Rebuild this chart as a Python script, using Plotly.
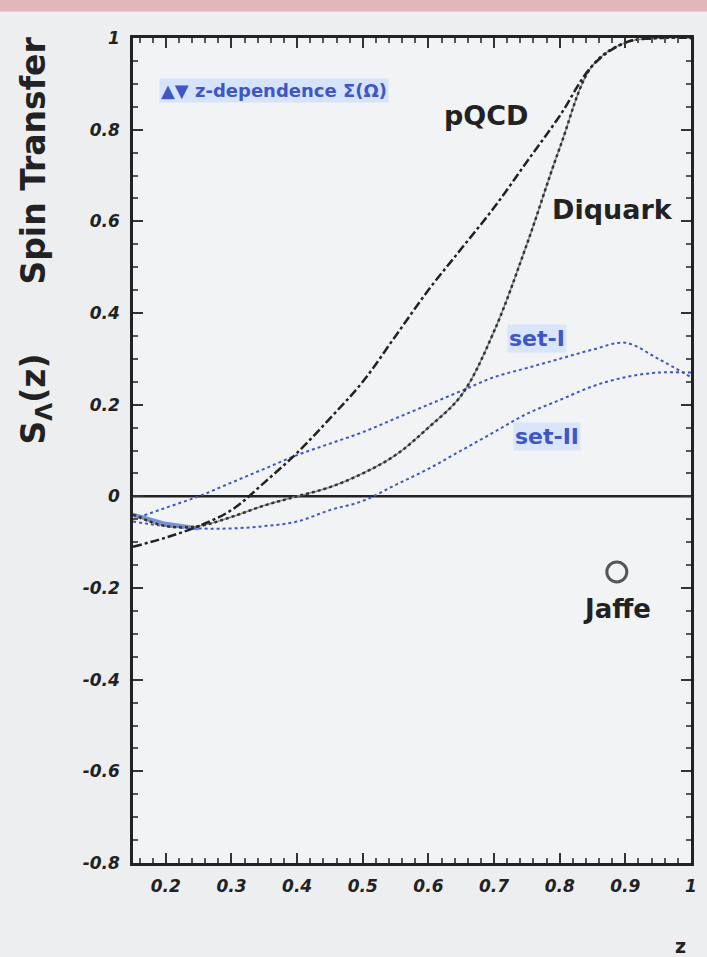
import plotly.graph_objects as go

# ---- data ----
z = [0.15, 0.20, 0.25, 0.30, 0.35, 0.40, 0.45, 0.50, 0.55, 0.60,
     0.65, 0.70, 0.75, 0.80, 0.85, 0.90, 0.95, 1.00]
pqcd = [-0.11, -0.09, -0.065, -0.03, 0.03, 0.095, 0.17, 0.25, 0.35, 0.45,
        0.54, 0.63, 0.73, 0.83, 0.94, 0.99, 1.0, 1.0]
diquark = [-0.04, -0.065, -0.065, -0.045, -0.02, 0.0, 0.02, 0.05, 0.09, 0.15,
           0.22, 0.36, 0.55, 0.76, 0.94, 0.99, 1.0, 1.0]
set1 = [-0.05, -0.025, 0.0, 0.03, 0.06, 0.09, 0.115, 0.14, 0.17, 0.20,
        0.23, 0.26, 0.28, 0.30, 0.32, 0.335, 0.30, 0.26]
set2 = [-0.055, -0.065, -0.07, -0.07, -0.065, -0.055, -0.03, -0.01, 0.025, 0.06,
        0.10, 0.14, 0.18, 0.21, 0.24, 0.26, 0.27, 0.27]
band_z = [0.15, 0.20, 0.25]
band_y = [-0.04, -0.06, -0.07]
jaffe_z = [0.887]
jaffe_y = [-0.165]

x_ticks = [0.2, 0.3, 0.4, 0.5, 0.6, 0.7, 0.8, 0.9, 1.0]
x_ticklabels = ["0.2", "0.3", "0.4", "0.5", "0.6", "0.7", "0.8", "0.9", "1"]
y_ticks = [-0.8, -0.6, -0.4, -0.2, 0, 0.2, 0.4, 0.6, 0.8, 1]
y_ticklabels = ["-0.8", "-0.6", "-0.4", "-0.2", "0", "0.2", "0.4", "0.6", "0.8", "1"]

BLUE = "#3f56c4"
FONT = "DejaVu Sans"

fig = go.Figure()

# zero line
fig.add_trace(go.Scatter(x=[0.15, 1.0], y=[0, 0], mode="lines",
                         line=dict(color="#222222", width=2.5), hoverinfo="skip"))
# blue solid short band
fig.add_trace(go.Scatter(x=band_z, y=band_y, mode="lines",
                         line=dict(color="rgba(80,120,220,0.8)", width=4), hoverinfo="skip"))
# set-I and set-II
fig.add_trace(go.Scatter(x=z, y=set1, mode="lines", name="set-I",
                         line=dict(color=BLUE, width=2, dash="dot", shape="spline")))
fig.add_trace(go.Scatter(x=z, y=set2, mode="lines", name="set-II",
                         line=dict(color=BLUE, width=2, dash="dot", shape="spline")))
# Diquark: solid grey with dotted overlay
fig.add_trace(go.Scatter(x=z, y=diquark, mode="lines", name="Diquark",
                         line=dict(color="#8a8a8a", width=1.5, shape="spline")))
fig.add_trace(go.Scatter(x=z, y=diquark, mode="lines", name="Diquark",
                         line=dict(color="#333333", width=2.5, dash="dot", shape="spline")))
# pQCD
fig.add_trace(go.Scatter(x=z, y=pqcd, mode="lines", name="pQCD",
                         line=dict(color="#222222", width=2.5, dash="dashdot", shape="spline")))
# Jaffe point
fig.add_trace(go.Scatter(x=jaffe_z, y=jaffe_y, mode="markers", name="Jaffe",
                         marker=dict(symbol="circle-open", size=20, color="#555555",
                                     line=dict(color="#555555", width=3))))

def bold(size, color="#222222"):
    return dict(family=FONT, size=size, color=color, weight="bold")

annotations = [
    dict(x=0.688, y=0.83, text="pQCD", font=bold(27)),
    dict(x=0.88, y=0.625, text="Diquark", font=bold(27)),
    dict(x=0.765, y=0.345, text="set-I", font=bold(22, BLUE),
         bgcolor="rgba(200,220,255,0.6)"),
    dict(x=0.78, y=0.13, text="set-II", font=bold(22, BLUE),
         bgcolor="rgba(200,220,255,0.6)"),
    dict(x=0.887, y=-0.245, text="Jaffe", font=bold(26)),
    dict(x=0.19, y=0.885, xanchor="left", text="▲▼ z-dependence Σ(Ω)",
         font=bold(18, BLUE), bgcolor="rgba(190,215,255,0.55)"),
    dict(xref="paper", yref="paper", x=-0.175, y=0.755, xanchor="center", yanchor="middle",
         textangle=-90, text="S<sub>Λ</sub>(z)      Spin Transfer", font=bold(33)),
    dict(xref="paper", yref="paper", x=0.995, y=-0.1, yanchor="middle", text="z",
         font=bold(19)),
]
for a in annotations:
    a.setdefault("xref", "x")
    a.setdefault("yref", "y")
    a["showarrow"] = False

axis_common = dict(
    showgrid=False, zeroline=False, showline=True, linecolor="#222222", linewidth=2.5,
    mirror="ticks", ticks="inside", ticklen=10, tickwidth=2, tickcolor="#333333",
    tickfont=dict(family=FONT, size=17, color="#222222", weight="bold", style="italic"),
)

fig.update_layout(
    width=707, height=957,
    margin=dict(l=133, r=10, t=38, b=94),
    paper_bgcolor="#eceef0",
    plot_bgcolor="#f2f3f5",
    showlegend=False,
    annotations=annotations,
    xaxis=dict(range=[0.15, 1.0], tickvals=x_ticks, ticktext=x_ticklabels,
               minor=dict(ticks="inside", ticklen=5, dtick=0.02, tickcolor="#555555"),
               ticklabelstandoff=6, **axis_common),
    yaxis=dict(range=[-0.8, 1.0], tickvals=y_ticks, ticktext=y_ticklabels,
               minor=dict(ticks="inside", ticklen=5, dtick=0.05, tickcolor="#555555"),
               ticklabelstandoff=7, **axis_common),
    shapes=[dict(type="rect", xref="paper", yref="paper", x0=-0.3, x1=1.05,
                 y0=1.032, y1=1.05, fillcolor="rgba(215,140,140,0.55)", line=dict(width=0),
                 layer="below")],
)

fig.write_html("out.html")
